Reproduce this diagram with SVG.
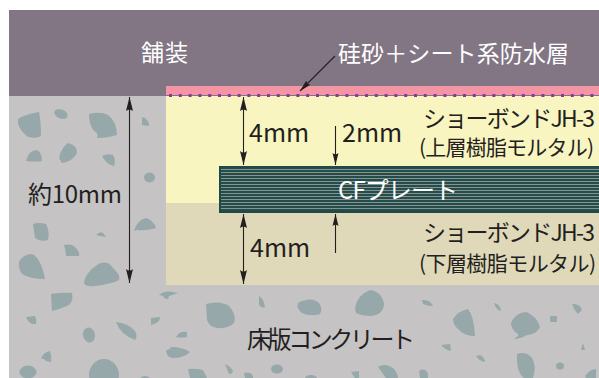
<svg xmlns="http://www.w3.org/2000/svg" width="599" height="378" viewBox="0 0 599 378">
<style>
.s{fill:#97a8ab}
.t{font-family:"Noto Sans CJK JP","Noto Sans",sans-serif;fill:#231f20}
.w{fill:#fff}
.l{stroke:#231f20;stroke-width:1.1;fill:none}
</style>
<defs>
<marker id="ah" viewBox="0 0 14 8" refX="14" refY="4" markerWidth="14" markerHeight="8" markerUnits="userSpaceOnUse" orient="auto-start-reverse"><path d="M0 0.5L14 4L0 7.5Q3 4 0 0.5Z" fill="#231f20"/></marker>
<marker id="as" viewBox="0 0 14 8" refX="14" refY="4" markerWidth="12" markerHeight="7" markerUnits="userSpaceOnUse" orient="auto"><path d="M0 0.5L14 4L0 7.5Q3 4 0 0.5Z" fill="#231f20"/></marker>
<pattern id="st" width="4" height="3" patternUnits="userSpaceOnUse" y="168"><rect width="4" height="3" fill="#234c4a"/><rect y="1" width="4" height="1" fill="#86938f"/></pattern>
</defs>
<rect width="599" height="378" fill="#fff"/>
<g id="concrete">
<rect x="9" y="96" width="590" height="282" fill="#c5c3c4"/>
<g>
<path class="s" d="M18 119Q23 115 39 112Q41 122 41 136Q36 139 28 137Q21 132 18 124Z"/>
<ellipse class="s" cx="61" cy="114" rx="7" ry="4.5" transform="rotate(20 61 114)"/>
<path class="s" d="M89 114Q100 111 108 115Q117 122 117 135Q108 138 97 138Q99 133 94 131Q89 125 89 114Z"/>
<path class="s" d="M142 117Q149 119 149 126L142 125Z"/>
<path class="s" d="M26 161Q29 150 37 150Q42 153 42 161Q33 162 26 161Z"/>
<path class="s" d="M59 158Q61 148 68 143Q77 145 77 153Q72 162 62 163Z"/>
<path class="s" d="M102 156Q108 153 113 155Q116 160 114 166Q107 165 102 156Z"/>
<ellipse class="s" cx="149.500" cy="177.500" rx="5.500" ry="5"/>
<path class="s" d="M33 224Q38 222 46 224Q50 232 48 240Q40 242 35 238Z"/>
<path class="s" d="M96 235Q100 231 103 233L106 237Q100 236 96 235Z"/>
<path class="s" d="M134 231Q137 220 146 218Q154 221 156 228Q146 231 137 230Z"/>
<path class="s" d="M64 245Q72 243 76 248Q80 252 79 256L66 256Q66 250 64 245Z"/>
<path class="s" d="M19 262Q23 254 32 254Q41 258 45 279Q30 279 22 274Q18 268 19 262Z"/>
<path class="s" d="M84 283Q85 273 97 265Q107 259 113 268Q121 275 119 280Q112 284 94 286Q86 287 84 283Z"/>
<path class="s" d="M51 294Q62 292 72 293Q74 303 67 306Q60 309 52 311Z"/>
<path class="s" d="M26 317L35 316Q37 320 36 324Q29 325 26 317Z"/>
<ellipse class="s" cx="89" cy="335" rx="6" ry="7.500" transform="rotate(-15 89 335)"/>
<path class="s" d="M116 322Q128 323 135 331Q138 336 135 340Q120 334 116 322Z"/>
<path class="s" d="M159 295Q165 289 178 293Q172 295 169 296L168 299Q164 299 163 296Z"/>
<path class="s" d="M151 318L160 317Q160 323 151 325Z"/>
<path class="s" d="M176 337Q179 331 187 332L187 337Q180 338 176 337Z"/>
<path class="s" d="M166 350Q170 350 171 347Q182 347 190 352Q184 358 173 358Q166 357 166 350Z"/>
<path class="s" d="M41 359Q43 352 50 351Q52 356 51 362L46 361Q44 358 41 359Z"/>
<ellipse class="s" cx="28" cy="372" rx="8.500" ry="6.500"/>
<ellipse class="s" cx="104" cy="375" rx="15" ry="16"/>
<ellipse class="s" cx="145" cy="379" rx="5" ry="3"/>
<path class="s" d="M188 369Q195 368 203 370L207 378L190 378Z"/>
<path class="s" d="M225 364Q232 367 233 372Q232 374 229 374Z"/>
<path class="s" d="M244 373Q250 371 253 376L253 378L245 378Z"/>
<ellipse class="s" cx="277" cy="369" rx="6" ry="4.500"/>
<path class="s" d="M259 296Q264 299 265 307Q261 309 259 304Z"/>
<path class="s" d="M206 304Q220 300 229 306Q237 315 234 323Q228 329 218 328Q209 327 207 320Z"/>
<path class="s" d="M302 301Q313 297 319 303Q323 309 320 314Q310 317 302 313Q296 308 298 303Z"/>
<path class="s" d="M355 308Q357 295 370 290Q381 291 384 303Q384 314 372 316Q362 316 356 313Z"/>
<path class="s" d="M422 300Q430 299 433 306Q427 306 423 304Z"/>
<path class="s" d="M453 319Q458 311 468 309Q474 316 475 336Q465 336 459 330Q453 325 453 319Z"/>
<path class="s" d="M494 303Q500 304 501 311Q496 310 494 303Z"/>
<path class="s" d="M511 323Q515 313 526 312Q537 316 540 327Q537 334 527 335Q520 339 514 339Q519 336 518 334Q511 330 511 323Z"/>
<rect class="s" x="550" y="316" width="7" height="6" rx="1"/>
<path class="s" d="M572 304Q580 303 582 310L578 314Q574 310 572 304Z"/>
<path class="s" d="M583 343L585 350L581 350Z"/>
<path class="s" d="M441 345L450 344L451 351Q445 350 441 345Z"/>
<path class="s" d="M476 356L480 355Q485 358 485 362Q479 361 476 356Z"/>
<path class="s" d="M517 354Q526 351 532 358Q537 366 533 378L524 378Q516 372 517 354Z"/>
<ellipse class="s" cx="560" cy="366" rx="4" ry="3.500"/>
<path class="s" d="M585 376Q590 369 596 369L596 378L586 378Z"/>
<path class="s" d="M351 372L359 371L359 378L355 378Z"/>
<path class="s" d="M378 367Q386 362 394 369Q398 374 398 378L386 378Z"/>
<path class="s" d="M419 371Q425 367 428 374L428 378L420 378Z"/>
<ellipse class="s" cx="311" cy="378" rx="6" ry="3"/>
</g>
<text class="t" x="247" y="348" font-size="24" textLength="168">床版コンクリート</text>
<text class="t" x="28" y="203" font-size="24" textLength="94">約10mm</text>
</g>
<g id="paving">
<rect x="9" y="10" width="590" height="86" fill="#827584"/>
<text class="t w" x="141" y="61" font-size="23" textLength="47">舗装</text>
</g>
<g id="upper-mortar">
<rect x="166" y="96" width="433" height="107" fill="#f8f5c1"/>
<text class="t" x="423" y="127" font-size="23" textLength="172">ショーボンドJH-3</text>
<text class="t" x="419" y="155" font-size="21" textLength="175">(上層樹脂モルタル)</text>
</g>
<g id="waterproof">
<rect x="166" y="86" width="433" height="9" fill="#f495a6"/>
<rect x="166" y="95" width="433" height="1" fill="#827584"/>
<line x1="169" y1="95.500" x2="599" y2="95.500" stroke="#8e36a0" stroke-width="3" stroke-dasharray="3 6.800"/>
<text class="t w" x="338" y="62" font-size="23" textLength="231">硅砂＋シート系防水層</text>
</g>
<g id="lower-mortar">
<rect x="166" y="203" width="433" height="82" fill="#dfd9b9"/>
<text class="t" x="423" y="241" font-size="23" textLength="172">ショーボンドJH-3</text>
<text class="t" x="419" y="271" font-size="21" textLength="177">(下層樹脂モルタル)</text>
</g>
<g id="cf-plate">
<rect x="219" y="166" width="380" height="47" fill="#1f4a47"/>
<rect x="221" y="168" width="378" height="43" fill="url(#st)"/>
<text class="t w" x="338" y="199" font-size="24" textLength="120">CFプレート</text>
</g>
<g id="dimension-labels">
<text class="t" x="249" y="142" font-size="25">4mm</text>
<text class="t" x="342" y="142" font-size="25">2mm</text>
<text class="t" x="250" y="257" font-size="25">4mm</text>
</g>
<g id="connectors">
<line class="l" x1="129.500" y1="97" x2="129.500" y2="283" marker-start="url(#ah)" marker-end="url(#ah)"/>
<line class="l" x1="243.500" y1="97" x2="243.500" y2="165" marker-start="url(#ah)" marker-end="url(#ah)"/>
<line class="l" x1="243.500" y1="214" x2="243.500" y2="284" marker-start="url(#ah)" marker-end="url(#ah)"/>
<line class="l" x1="335.500" y1="126" x2="335.500" y2="165" marker-end="url(#as)"/>
<line class="l" x1="335.500" y1="253" x2="335.500" y2="214" marker-end="url(#as)"/>
<line class="l" x1="335" y1="56" x2="300" y2="91" marker-end="url(#as)"/>
</g>
</svg>
